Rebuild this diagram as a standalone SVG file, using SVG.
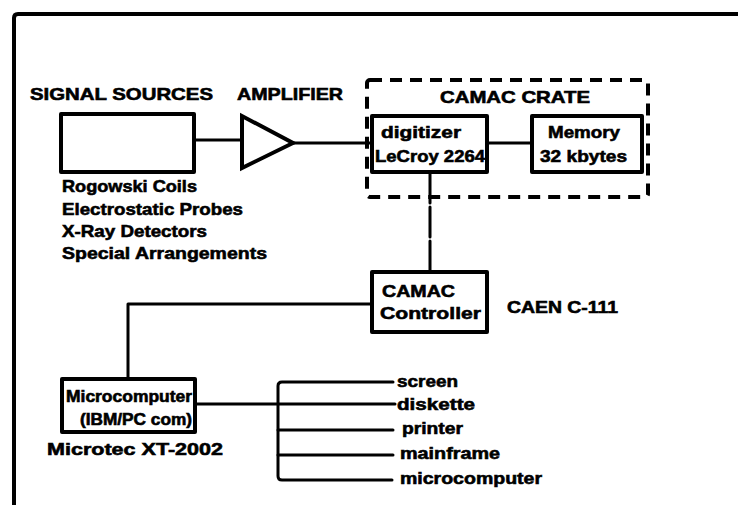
<svg xmlns="http://www.w3.org/2000/svg" width="738" height="505" viewBox="0 0 738 505">
<style>
.t{font-family:"Liberation Sans",Arial,sans-serif;font-weight:bold;fill:#000;stroke:#000;stroke-width:0.6}
.box{fill:#fff;stroke:#000;stroke-width:4;stroke-linejoin:round}
.ln{fill:none;stroke:#000;stroke-width:3;stroke-linecap:round;stroke-linejoin:round}
</style>
<rect width="738" height="505" fill="#fff"/>
<path d="M738 14 H18 Q14 14 14 18 V505" fill="none" stroke="#000" stroke-width="4"/>
<g id="connectors">
<path class="ln" d="M194 140 H242"/>
<path class="ln" d="M293 143 H372"/>
<path class="ln" d="M487 143 H532"/>
<path class="ln" d="M430 173 V272" stroke-dasharray="30 4"/>
<path class="ln" d="M372 304 H128 V379"/>
<path class="ln" d="M195 404 H395"/>
<path class="ln" d="M393 382 H282 Q278 382 278 386 V476 Q278 480 282 480 H392"/>
<path class="ln" d="M278 430 H393"/>
<path class="ln" d="M278 455 H393"/>
</g>
<g id="crate">
<rect x="367" y="80" width="281" height="117" fill="none" stroke="#000" stroke-width="4" stroke-dasharray="12 8" rx="3"/>
<text class="t" x="440" y="103" font-size="17" textLength="150" lengthAdjust="spacingAndGlyphs">CAMAC CRATE</text>
</g>
<g id="signal-sources">
<text class="t" x="30" y="100" font-size="17" textLength="183" lengthAdjust="spacingAndGlyphs">SIGNAL SOURCES</text>
<rect class="box" x="61" y="114" width="133" height="58"/>
<text class="t" x="62" y="192" font-size="17" textLength="135" lengthAdjust="spacingAndGlyphs">Rogowski Coils</text>
<text class="t" x="62" y="215" font-size="17" textLength="181" lengthAdjust="spacingAndGlyphs">Electrostatic Probes</text>
<text class="t" x="62" y="237" font-size="17" textLength="145" lengthAdjust="spacingAndGlyphs">X-Ray Detectors</text>
<text class="t" x="62" y="259" font-size="17" textLength="205" lengthAdjust="spacingAndGlyphs">Special Arrangements</text>
</g>
<g id="amplifier">
<text class="t" x="237" y="100" font-size="17" textLength="106" lengthAdjust="spacingAndGlyphs">AMPLIFIER</text>
<path d="M242 116 V168 L293 143 Z" fill="#fff" stroke="#000" stroke-width="4" stroke-linejoin="miter"/>
</g>
<g id="digitizer">
<rect class="box" x="372" y="116" width="115" height="56"/>
<text class="t" x="381" y="138" font-size="17" textLength="80" lengthAdjust="spacingAndGlyphs">digitizer</text>
<text class="t" x="375" y="162" font-size="17" textLength="110" lengthAdjust="spacingAndGlyphs">LeCroy 2264</text>
</g>
<g id="memory">
<rect class="box" x="532" y="116" width="110" height="56"/>
<text class="t" x="548" y="138" font-size="17" textLength="72" lengthAdjust="spacingAndGlyphs">Memory</text>
<text class="t" x="540" y="162" font-size="17" textLength="87" lengthAdjust="spacingAndGlyphs">32 kbytes</text>
</g>
<g id="controller">
<rect class="box" x="372" y="272" width="115" height="60"/>
<text class="t" x="382" y="297" font-size="17" textLength="73" lengthAdjust="spacingAndGlyphs">CAMAC</text>
<text class="t" x="380" y="319" font-size="17" textLength="101" lengthAdjust="spacingAndGlyphs">Controller</text>
<text class="t" x="507" y="313" font-size="17" textLength="111" lengthAdjust="spacingAndGlyphs">CAEN C-111</text>
</g>
<g id="microcomputer">
<rect class="box" x="62" y="379" width="133" height="53"/>
<text class="t" x="66" y="402" font-size="16" textLength="126" lengthAdjust="spacingAndGlyphs">Microcomputer</text>
<text class="t" x="80" y="425" font-size="16" textLength="112" lengthAdjust="spacingAndGlyphs">(IBM/PC com)</text>
<text class="t" x="47" y="455" font-size="17" textLength="176" lengthAdjust="spacingAndGlyphs">Microtec XT-2002</text>
</g>
<g id="outputs">
<text class="t" x="397" y="387" font-size="17" textLength="61" lengthAdjust="spacingAndGlyphs">screen</text>
<text class="t" x="397" y="410" font-size="17" textLength="78" lengthAdjust="spacingAndGlyphs">diskette</text>
<text class="t" x="402" y="434" font-size="17" textLength="61" lengthAdjust="spacingAndGlyphs">printer</text>
<text class="t" x="400" y="459" font-size="17" textLength="100" lengthAdjust="spacingAndGlyphs">mainframe</text>
<text class="t" x="400" y="484" font-size="17" textLength="142" lengthAdjust="spacingAndGlyphs">microcomputer</text>
</g>
</svg>
